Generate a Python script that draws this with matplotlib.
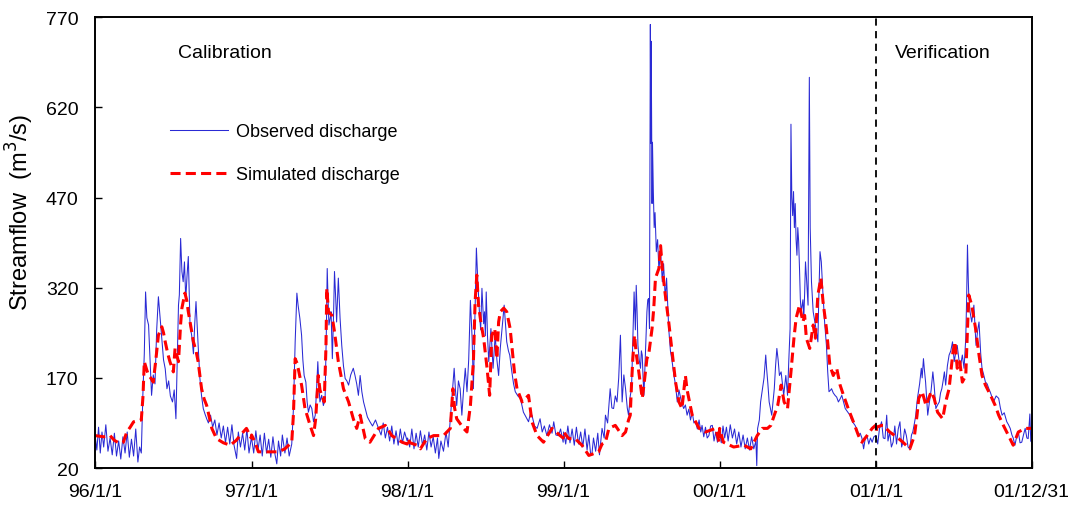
import matplotlib
matplotlib.use("Agg")
import matplotlib.pyplot as plt
import pandas as pd

# (day of year, discharge m3/s), one list per year
obs_1996 = [(0,74),(4,50),(8,88),(12,45),(16,80),(20,55),(25,92),(30,48),(35,70),(40,42),(45,78),(50,40),(55,65),(60,35),(65,72),(70,45),(75,80),(80,38),(85,68),(90,40),(95,85),(100,30),(104,55),(108,45),(112,150),(115,210),(118,313),(121,270),(125,258),(129,190),(132,141),(136,175),(140,160),(144,250),(148,305),(152,270),(156,236),(160,200),(164,185),(168,152),(172,165),(176,140),(181,130),(185,150),(189,102),(192,200),(195,291),(197,308),(200,402),(203,347),(206,330),(209,363),(212,300),(215,340),(218,372),(222,258),(226,240),(230,210),(233,260),(236,297),(241,224),(245,170),(249,140),(253,119),(257,110),(261,102),(265,95),(270,108),(275,88),(280,100),(285,75),(290,95),(295,70),(300,90),(305,62),(310,88),(315,60),(320,92),(325,58),(331,36),(335,80),(340,55),(345,78),(350,50),(355,85),(360,45),(365,68)]
sim_1996 = [(0,74),(20,72),(35,74),(45,66),(58,61),(66,63),(74,80),(82,88),(90,97),(100,99),(108,100),(112,140),(115,197),(120,185),(125,174),(130,170),(136,163),(142,200),(148,241),(156,255),(160,245),(164,230),(170,210),(175,197),(183,180),(187,219),(192,205),(195,197),(200,260),(203,286),(210,311),(214,300),(218,280),(224,255),(230,230),(236,215),(241,197),(249,152),(255,135),(261,124),(267,105),(273,86),(280,75),(284,69),(300,62),(316,58),(330,66),(339,74),(354,86),(362,75),(365,70)]

obs_1997 = [(0,70),(5,45),(10,82),(15,50),(20,75),(25,40),(30,78),(35,45),(40,68),(45,38),(50,72),(55,42),(59,27),(63,65),(68,40),(72,75),(78,45),(83,70),(88,40),(94,60),(98,120),(102,230),(106,311),(109,290),(113,269),(117,241),(120,200),(123,174),(127,163),(130,130),(133,113),(137,125),(141,119),(145,97),(149,108),(152,150),(155,197),(158,150),(160,130),(164,141),(168,124),(172,135),(175,250),(177,352),(179,300),(181,258),(184,270),(186,280),(189,202),(192,280),(194,347),(197,300),(199,263),(201,300),(203,336),(207,270),(211,224),(215,190),(219,169),(223,165),(227,158),(232,175),(238,186),(242,174),(246,160),(250,141),(254,174),(258,147),(262,130),(266,119),(271,105),(277,97),(283,90),(290,100),(297,86),(303,75),(308,95),(313,70),(318,88),(323,65),(328,90),(333,60),(338,82),(343,58),(348,85),(353,62),(358,80),(364,65)]
sim_1997 = [(0,75),(8,63),(16,47),(31,47),(47,47),(63,47),(78,52),(94,63),(98,110),(102,202),(106,195),(109,186),(117,158),(125,119),(137,91),(145,74),(150,102),(156,174),(160,150),(164,141),(170,130),(174,220),(176,319),(180,280),(188,274),(194,247),(203,197),(215,152),(227,130),(238,102),(246,86),(254,108),(266,69),(277,63),(297,86),(313,91),(328,74),(352,63),(364,60)]

obs_1998 = [(0,70),(5,55),(10,85),(15,52),(20,78),(25,55),(30,82),(35,58),(40,75),(45,50),(50,80),(55,55),(60,72),(65,45),(70,70),(73,36),(78,65),(84,48),(90,80),(95,55),(100,102),(104,140),(109,186),(112,150),(115,124),(119,165),(123,152),(127,108),(131,150),(135,186),(139,147),(143,200),(147,299),(151,236),(154,152),(157,250),(161,386),(164,336),(168,280),(171,250),(174,319),(178,260),(180,280),(182,240),(184,313),(187,240),(190,197),(193,230),(195,252),(200,186),(203,220),(205,241),(209,200),(213,174),(217,220),(221,252),(226,291),(229,260),(232,230),(236,215),(239,208),(244,180),(248,160),(252,147),(258,140),(264,136),(271,113),(277,105),(283,97),(287,110),(291,108),(297,90),(303,86),(307,95),(310,102),(315,80),(320,90),(326,74),(332,92),(338,78),(342,97),(347,75),(353,74),(358,85),(364,63)]
sim_1998 = [(0,69),(6,62),(22,58),(30,52),(45,69),(61,74),(84,74),(100,86),(103,120),(106,152),(110,120),(115,102),(131,86),(139,80),(147,124),(154,197),(158,297),(162,341),(166,291),(172,260),(178,236),(186,186),(192,141),(197,241),(204,252),(209,202),(213,263),(217,280),(225,286),(232,280),(240,252),(250,180),(256,152),(268,130),(283,141),(291,97),(303,74),(318,63),(338,86),(357,74),(364,70)]

obs_1999 = [(0,80),(5,60),(10,90),(15,62),(20,85),(25,58),(30,88),(35,60),(40,80),(45,55),(50,85),(55,50),(59,75),(63,45),(66,41),(70,70),(75,48),(80,78),(84,42),(90,86),(95,70),(98,108),(103,95),(109,152),(113,120),(117,119),(121,140),(125,130),(129,170),(133,241),(137,130),(141,175),(145,152),(149,120),(152,108),(156,140),(159,152),(162,230),(165,313),(168,250),(170,324),(172,280),(174,224),(177,200),(180,186),(182,215),(184,208),(186,170),(188,141),(191,200),(195,280),(197,300),(199,302),(201,252),(203,758),(204,560),(205,730),(207,460),(208,562),(210,480),(212,420),(214,445),(217,380),(220,400),(223,350),(227,380),(231,330),(234,360),(238,300),(241,336),(246,252),(250,215),(254,197),(258,175),(262,158),(266,130),(270,150),(274,136),(277,128),(281,119),(285,125),(289,108),(293,118),(297,100),(301,113),(305,95),(309,97),(313,85),(317,100),(321,80),(324,91),(328,72),(332,88),(336,70),(340,74),(344,90),(348,91),(352,65),(356,80),(360,63),(364,80)]
sim_1999 = [(0,80),(12,69),(27,69),(43,58),(59,41),(82,47),(90,60),(98,63),(106,86),(121,91),(137,74),(145,80),(152,100),(156,108),(159,160),(162,202),(166,241),(170,210),(176,180),(184,136),(188,158),(195,202),(199,208),(207,252),(211,286),(215,336),(223,352),(227,390),(231,352),(238,308),(246,263),(254,213),(262,163),(270,130),(277,119),(285,174),(289,150),(293,136),(301,108),(317,86),(332,80),(356,86),(364,63)]

obs_2000 = [(0,80),(4,62),(8,90),(12,70),(16,88),(20,65),(25,92),(30,70),(35,85),(40,60),(45,80),(50,55),(55,75),(60,52),(65,70),(70,50),(75,72),(80,52),(85,65),(87,24),(89,86),(93,100),(96,130),(100,150),(104,170),(108,208),(110,186),(113,160),(116,130),(120,115),(122,108),(125,130),(128,152),(131,190),(134,219),(137,200),(140,174),(144,180),(147,160),(150,141),(153,160),(155,174),(159,141),(162,200),(165,252),(167,592),(169,470),(171,440),(173,480),(175,420),(177,460),(179,400),(181,374),(183,420),(185,397),(187,352),(189,300),(191,280),(195,300),(197,269),(199,310),(201,363),(203,340),(207,291),(210,670),(212,420),(215,330),(219,280),(224,258),(226,250),(230,230),(232,300),(235,380),(238,363),(242,308),(246,260),(250,224),(253,180),(256,147),(260,150),(262,152),(266,145),(270,141),(274,138),(278,130),(282,135),(286,141),(290,130),(294,119),(298,115),(301,112),(305,108),(309,100),(313,95),(317,91),(321,85),(325,74),(329,78),(333,70),(337,52),(341,70),(345,74),(349,60),(353,70),(357,63),(361,72),(365,74)]
sim_2000 = [(0,86),(9,63),(33,55),(57,58),(73,52),(88,74),(100,86),(112,86),(120,91),(128,108),(136,124),(144,158),(151,130),(159,119),(167,180),(174,236),(179,269),(187,291),(195,263),(199,274),(203,236),(211,219),(219,258),(224,236),(230,308),(237,336),(242,297),(250,252),(258,191),(266,174),(274,186),(282,158),(290,141),(301,119),(313,97),(325,74),(333,63),(345,74),(357,86),(365,91)]

obs_2001 = [(0,74),(4,60),(8,85),(13,97),(17,70),(21,69),(25,108),(28,65),(32,80),(36,55),(40,63),(44,90),(48,60),(52,85),(56,97),(60,55),(63,63),(67,85),(71,74),(75,55),(79,52),(83,75),(86,80),(90,95),(93,108),(96,130),(98,141),(102,160),(106,186),(108,170),(111,202),(113,185),(116,163),(119,130),(121,108),(125,130),(129,150),(133,180),(136,158),(140,119),(144,125),(148,130),(151,145),(154,152),(157,165),(160,180),(163,158),(167,190),(171,208),(175,215),(179,230),(183,197),(186,210),(190,224),(194,200),(198,191),(202,208),(206,186),(210,236),(212,300),(214,391),(216,330),(217,308),(220,280),(224,263),(229,291),(232,250),(234,224),(238,250),(241,263),(245,210),(248,186),(252,175),(256,163),(260,160),(264,152),(268,145),(275,130),(281,140),(287,136),(291,120),(295,108),(300,112),(306,97),(310,92),(314,86),(318,75),(321,70),(325,58),(329,72),(333,80),(337,62),(341,63),(345,75),(349,86),(353,70),(356,69),(360,110),(362,65),(364,63)]
sim_2001 = [(0,80),(2,88),(13,91),(17,91),(32,80),(48,72),(63,63),(79,52),(90,74),(96,108),(100,136),(108,147),(117,124),(129,147),(136,136),(144,113),(156,102),(163,130),(171,152),(180,213),(185,230),(190,186),(196,197),(202,163),(210,174),(214,252),(217,308),(224,291),(233,252),(241,208),(248,174),(256,158),(268,141),(279,124),(287,108),(298,91),(310,74),(321,58),(333,80),(349,86),(364,86)]

observed = {1996: obs_1996, 1997: obs_1997, 1998: obs_1998, 1999: obs_1999, 2000: obs_2000, 2001: obs_2001}
simulated = {1996: sim_1996, 1997: sim_1997, 1998: sim_1998, 1999: sim_1999, 2000: sim_2000, 2001: sim_2001}

tick_dates = ["1996-01-01", "1997-01-01", "1998-01-01", "1999-01-01", "2000-01-01", "2001-01-01", "2001-12-31"]
tick_labels = ["96/1/1", "97/1/1", "98/1/1", "99/1/1", "00/1/1", "01/1/1", "01/12/31"]
y_ticks = [20, 170, 320, 470, 620, 770]


def to_series(by_year):
    dates, vals = [], []
    for year, pts in by_year.items():
        start = pd.Timestamp(f"{year}-01-01")
        for d, v in pts:
            dates.append(start + pd.Timedelta(days=d))
            vals.append(v)
    return dates, vals


obs_x, obs_y = to_series(observed)
sim_x, sim_y = to_series(simulated)

plt.rcParams["font.family"] = ["Liberation Sans", "DejaVu Sans"]

fig = plt.figure(figsize=(10.69, 5.06), dpi=100)
ax = fig.add_axes([0.089, 0.073, 0.876, 0.891])

ax.plot(obs_x, obs_y, color="#2a2ad4", lw=0.75, label="Observed discharge")
ax.plot(sim_x, sim_y, color="#ff0000", lw=2.2, linestyle=(0, (3.3, 1.7)),
        label="Simulated discharge")

ax.axvline(pd.Timestamp("2001-01-01"), color="black", lw=1.3, linestyle=(0, (4, 3)))

ax.set_xlim(pd.Timestamp("1996-01-01"), pd.Timestamp("2001-12-31"))
ax.set_ylim(20, 770)
ax.set_xticks([pd.Timestamp(t) for t in tick_dates])
ax.set_xticklabels(tick_labels)
ax.set_yticks(y_ticks)
ax.tick_params(direction="in", length=5, width=1, labelsize=14)
ax.tick_params(axis="x", pad=11)
ax.tick_params(axis="y", pad=12)
for s in ax.spines.values():
    s.set_linewidth(1.4)

ax.set_ylabel("Streamflow  (m$^3$/s)", fontsize=17)
ax.yaxis.set_label_coords(-0.063, 0.57)

ax.text(0.0886, 0.922, "Calibration", transform=ax.transAxes, fontsize=14, va="center")
ax.text(0.854, 0.922, "Verification", transform=ax.transAxes, fontsize=14, va="center")

ax.legend(loc="upper left", bbox_to_anchor=(0.08, 0.765), frameon=False, fontsize=13,
          handlelength=3.2, handletextpad=0.45, labelspacing=1.45, borderpad=0, borderaxespad=0)

fig.savefig("out.png", dpi=100)
